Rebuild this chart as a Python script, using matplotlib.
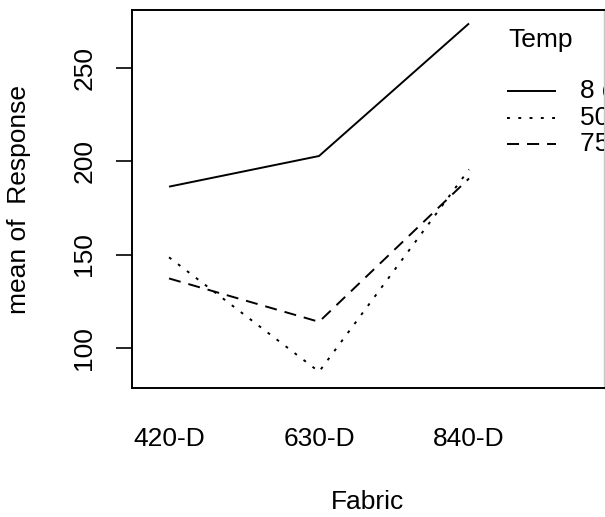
import matplotlib
matplotlib.use("Agg")
import matplotlib.pyplot as plt

plt.rcParams['font.family'] = ['Liberation Sans', 'DejaVu Sans']

fabrics = ["420-D", "630-D", "840-D"]
temps = ["8 degrees", "50 degrees", "75 degrees"]
mean_response = {
    "8 degrees": [186.3, 202.7, 273.6],
    "50 degrees": [148.5, 87.3, 195.5],
    "75 degrees": [137.2, 114.0, 190.7],
}
yticks = [100, 150, 200, 250]

# line styles per temperature level (solid, dotted, dashed)
styles = {
    "8 degrees": dict(linestyle="-"),
    "50 degrees": dict(dashes=(1.5, 4.3)),
    "75 degrees": dict(dashes=(6.2, 4.1)),
}
LW = 1.4

W, H = 605, 517
fig = plt.figure(figsize=(W / 100, H / 100), dpi=100)
left, right, top, bottom = 131.7, 604.0, 10.0, 388.0
ax = fig.add_axes([left / W, 1 - bottom / H, (right - left) / W, (bottom - top) / H])

xs = list(range(1, len(fabrics) + 1))
for t in temps:
    ax.plot(xs, mean_response[t], color="black", linewidth=LW,
            dash_capstyle="butt", solid_capstyle="butt", **styles[t])

ax.set_xlim(0.751, 3.9)
ax.set_ylim(78.6, 280.8)

ax.set_yticks(yticks)
ax.set_yticklabels([str(v) for v in yticks], rotation=90, va="center", fontsize=19)
ax.tick_params(axis="y", length=11.5, width=1.2, pad=14)
ax.set_xticks(xs)
ax.set_xticklabels(fabrics, fontsize=19)
ax.tick_params(axis="x", length=0, pad=28)

for side in ["left", "bottom", "top"]:
    ax.spines[side].set_linewidth(1.4)
ax.spines["right"].set_linewidth(1.0)
ax.spines["right"].set_color("#c8c8c8")

ax.set_xlabel("Fabric", fontsize=19, labelpad=28)
ax.set_ylabel("mean of  Response", fontsize=19, labelpad=30)

# legend drawn in axes coordinates
ax.text(0.797, 0.921, "Temp", transform=ax.transAxes, fontsize=19,
        va="center", ha="left")
legend_y = [0.786, 0.714, 0.646]
for t, yy in zip(temps, legend_y):
    ax.plot([0.795, 0.898], [yy, yy], transform=ax.transAxes, color="black",
            linewidth=LW, dash_capstyle="butt", solid_capstyle="butt",
            **styles[t])
    ax.text(0.949, yy, t, transform=ax.transAxes, fontsize=19,
            va="center", ha="left", clip_on=True)

fig.savefig("out.png", dpi=100)
